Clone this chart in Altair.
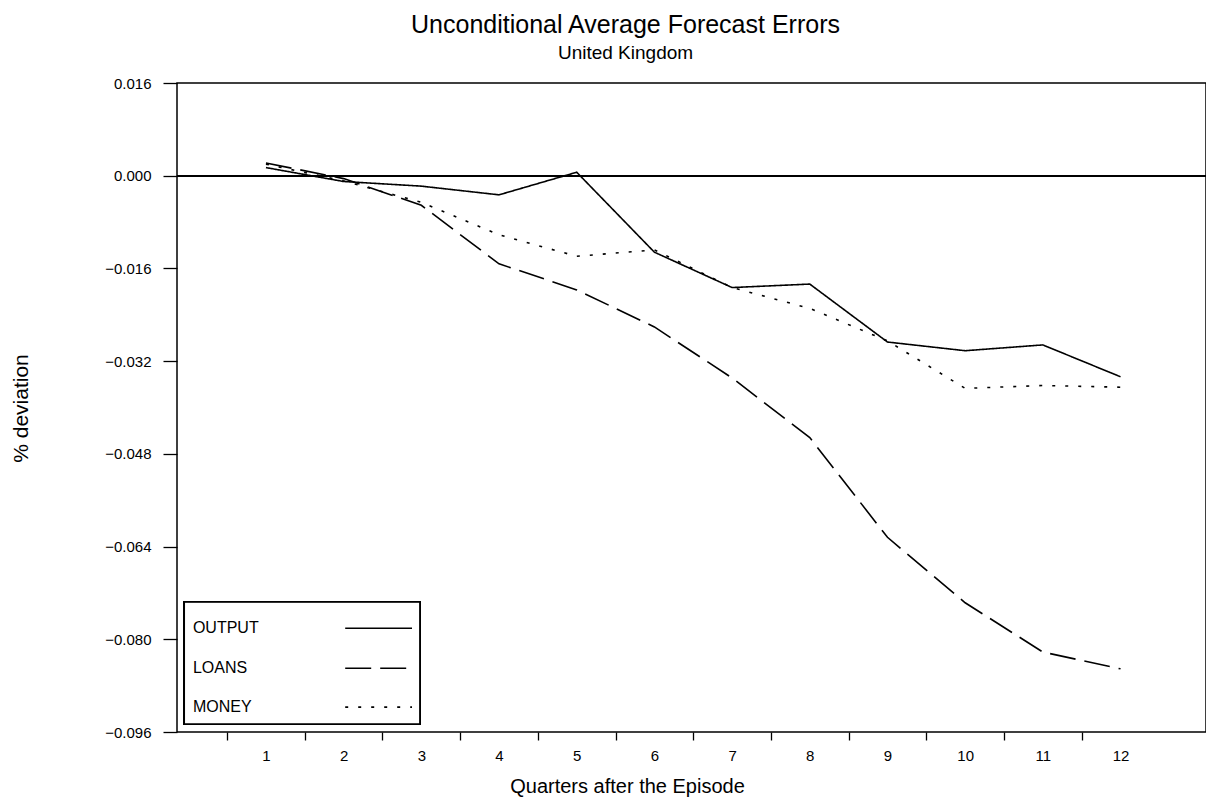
import altair as alt
import pandas as pd

# ---- data ----
quarters = [1, 2, 3, 4, 5, 6, 7, 8, 9, 10, 11, 12]
output = [0.0014, -0.0010, -0.0018, -0.0033, 0.0006, -0.0132, -0.0193, -0.0187, -0.0287, -0.0302, -0.0292, -0.0347]
loans = [0.0022, -0.0005, -0.0051, -0.0152, -0.0197, -0.0261, -0.0349, -0.0452, -0.0624, -0.0737, -0.0822, -0.0851]
money = [0.0020, -0.0009, -0.0046, -0.0102, -0.0139, -0.0128, -0.0193, -0.0229, -0.0285, -0.0367, -0.0362, -0.0365]
series_names = ["OUTPUT", "LOANS", "MONEY"]
y_tick_values = [0.016, 0.0, -0.016, -0.032, -0.048, -0.064, -0.080, -0.096]
x_tick_values = [0.5, 1.5, 2.5, 3.5, 4.5, 5.5, 6.5, 7.5, 8.5, 9.5, 10.5, 11.5]

# ---- styling / layout constants ----
FONT = "Liberation Sans"
DASHES = [[1, 0], [26, 9], [3, 10]]
X_DOMAIN = [-0.145, 13.10]
Y_DOMAIN = [-0.096, 0.016]
PLOT_W, PLOT_H = 1029, 649
LEG_BOX = dict(x=-0.05, x2=2.98, y=-0.0736, y2=-0.0946)
LEG_TEXT_X = 0.06
LEG_LINE_X = (2.02, 2.88)
LEG_ROW_Y = [-0.0781, -0.0850, -0.0917]

rows = []
for name, vals in zip(series_names, [output, loans, money]):
    for q, v in zip(quarters, vals):
        rows.append({"quarter": q, "value": v, "series": name})
df = pd.DataFrame(rows)

leg_df = pd.DataFrame({"series": series_names, "row_y": LEG_ROW_Y})

x_scale = alt.Scale(domain=X_DOMAIN, nice=False, zero=False)
y_scale = alt.Scale(domain=Y_DOMAIN, nice=False, zero=False)
dash_scale = alt.Scale(domain=series_names, range=DASHES)

half_step = PLOT_W / (X_DOMAIN[1] - X_DOMAIN[0]) / 2

x_axis = alt.Axis(
    values=x_tick_values,
    labelExpr="format(datum.value + 0.5, 'd')",
    labelOffset=half_step,
    labelFlush=False,
    labelOverlap=False,
    tickSize=8,
    tickColor="black",
    tickWidth=1.3,
    labelPadding=8,
    labelFontSize=15,
    labelFont=FONT,
    labelColor="black",
    domain=False,
    grid=False,
    title="Quarters after the Episode",
    titleFont=FONT,
    titleFontSize=20,
    titleFontWeight="normal",
    titleColor="black",
    titleX=450,
    titleY=44,
    titleAlign="center",
    titleBaseline="top",
)

y_axis = alt.Axis(
    values=y_tick_values,
    format=".3f",
    labelFlush=False,
    labelOverlap=False,
    tickSize=14,
    tickColor="black",
    tickWidth=1.3,
    labelPadding=12,
    labelFontSize=15,
    labelFont=FONT,
    labelColor="black",
    domain=False,
    grid=False,
    title="% deviation",
    titleFont=FONT,
    titleFontSize=21,
    titleFontWeight="normal",
    titleColor="black",
    titleAngle=270,
    titleX=-156,
    titleY=325,
    titleAlign="center",
    titleBaseline="middle",
)

lines = alt.Chart(df).mark_line(color="black", strokeWidth=1.6).encode(
    x=alt.X("quarter:Q", scale=x_scale, axis=x_axis),
    y=alt.Y("value:Q", scale=y_scale, axis=y_axis),
    strokeDash=alt.StrokeDash("series:N", scale=dash_scale, legend=None),
    detail="series:N",
)

zero_line = alt.Chart(df).mark_rule(color="black", strokeWidth=1.5).encode(
    y=alt.datum(0.0),
)

legend_box = alt.Chart(df).mark_rect(fill="white", stroke="black", strokeWidth=1.3).encode(
    x=alt.datum(LEG_BOX["x"]),
    x2=alt.datum(LEG_BOX["x2"]),
    y=alt.datum(LEG_BOX["y"]),
    y2=alt.datum(LEG_BOX["y2"]),
)

legend_text = alt.Chart(leg_df).mark_text(
    align="left", baseline="middle", font=FONT, fontSize=16, color="black"
).encode(
    x=alt.datum(LEG_TEXT_X),
    y=alt.Y("row_y:Q"),
    text="series:N",
)

legend_lines = alt.Chart(leg_df).mark_rule(color="black", strokeWidth=1.6).encode(
    x=alt.datum(LEG_LINE_X[0]),
    x2=alt.datum(LEG_LINE_X[1]),
    y=alt.Y("row_y:Q"),
    strokeDash=alt.StrokeDash("series:N", scale=dash_scale, legend=None),
)

chart = alt.layer(lines, zero_line, legend_box, legend_text, legend_lines).properties(
    width=PLOT_W,
    height=PLOT_H,
    title=alt.TitleParams(
        text="Unconditional Average Forecast Errors",
        subtitle="United Kingdom",
        font=FONT,
        fontSize=25,
        fontWeight="normal",
        color="black",
        subtitleFont=FONT,
        subtitleFontSize=19,
        subtitleColor="black",
        subtitlePadding=6,
        anchor="middle",
        dx=-66,
        offset=13,
    ),
    autosize=alt.AutoSizeParams(type="none"),
    padding={"left": 169, "top": 75, "right": 0, "bottom": 65},
).configure(
    background="white"
).configure_view(
    stroke="black", strokeWidth=1.5
)

chart.save("out.html", embed_options={"renderer": "svg", "actions": False})
